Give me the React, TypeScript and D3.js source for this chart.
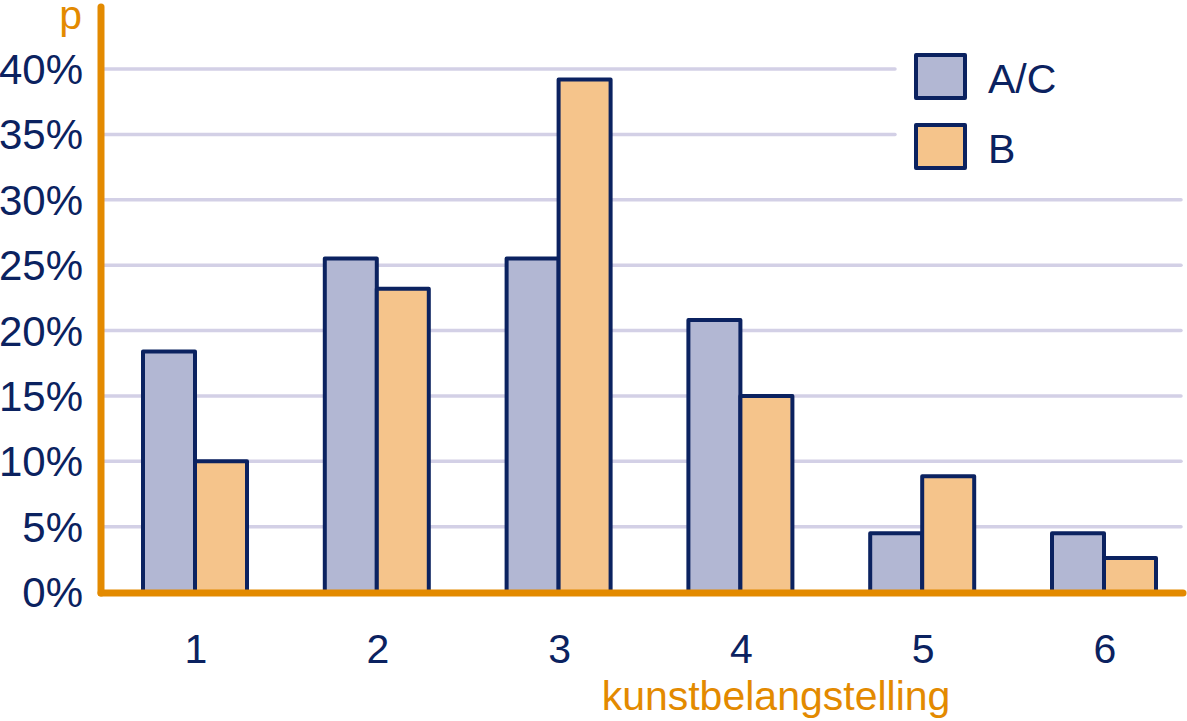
import * as d3 from 'd3'

const categories = ['1', '2', '3', '4', '5', '6']
const seriesNames = ['A/C', 'B']
const valuesAC = [18.4, 25.5, 25.5, 20.8, 4.5, 4.5]
const valuesB = [10.0, 23.2, 39.2, 15.0, 8.85, 2.6]
const yTicks = [0, 5, 10, 15, 20, 25, 30, 35, 40]

const navy = '#0b2260'
const orange = '#e38a00'
const fills = ['#b2b7d3', '#f5c48b']
const font = 'Liberation Sans, Arial, sans-serif'

export default function App() {
  const width = 1187
  const height = 721

  const x = d3.scalePoint<string>().domain(categories).range([195, 1104])
  const y = d3.scaleLinear().domain([0, 40]).range([592, 69])
  const barW = 52

  const series = [valuesAC, valuesB]

  return (
    <svg width={width} height={height} style={{ position: 'absolute', left: 0, top: 0 }}>
      <rect width={width} height={height} fill="#fff" />
      {/* grid */}
      {yTicks.slice(1).map((t) => (
        <line
          key={t}
          x1={101}
          x2={t >= 35 ? 895 : 1181}
          y1={y(t)}
          y2={y(t)}
          stroke="#d3d0e6"
          strokeWidth={3.5}
          strokeLinecap="round"
        />
      ))}
      {/* y labels */}
      {yTicks.map((t) => (
        <text
          key={t}
          x={83}
          y={y(t)}
          dy="0.36em"
          textAnchor="end"
          fontFamily={font}
          fontSize={42}
          fill={navy}
        >
          {t}%
        </text>
      ))}
      {/* bars */}
      {categories.map((c, i) =>
        series.map((vals, s) => {
          const x0 = (x(c) as number) + (s === 0 ? -barW : 0)
          return (
            <rect
              key={c + s}
              x={x0}
              y={y(vals[i])}
              width={barW}
              height={y(0) - y(vals[i])}
              fill={fills[s]}
              stroke={navy}
              strokeWidth={4}
              strokeLinejoin="round"
            />
          )
        })
      )}
      {/* axes */}
      <line x1={101} x2={101} y1={7} y2={593} stroke={orange} strokeWidth={7} strokeLinecap="round" />
      <line x1={101} x2={1183} y1={593} y2={593} stroke={orange} strokeWidth={7} strokeLinecap="round" />
      {/* x labels */}
      {categories.map((c) => (
        <text
          key={c}
          x={(x(c) as number) + 1}
          y={663}
          textAnchor="middle"
          fontFamily={font}
          fontSize={41}
          fill={navy}
        >
          {c}
        </text>
      ))}
      <text x={776} y={710} textAnchor="middle" fontFamily={font} fontSize={41} fill={orange}>
        kunstbelangstelling
      </text>
      <text x={82} y={29} textAnchor="end" fontFamily={font} fontSize={41} fill={orange}>
        p
      </text>
      {/* legend */}
      {seriesNames.map((n, s) => (
        <g key={n} transform={`translate(916,${55 + s * 70})`}>
          <rect width={49} height={43} fill={fills[s]} stroke={navy} strokeWidth={4} strokeLinejoin="round" />
          <text x={72} y={38} fontFamily={font} fontSize={41} fill={navy}>
            {n}
          </text>
        </g>
      ))}
    </svg>
  )
}
